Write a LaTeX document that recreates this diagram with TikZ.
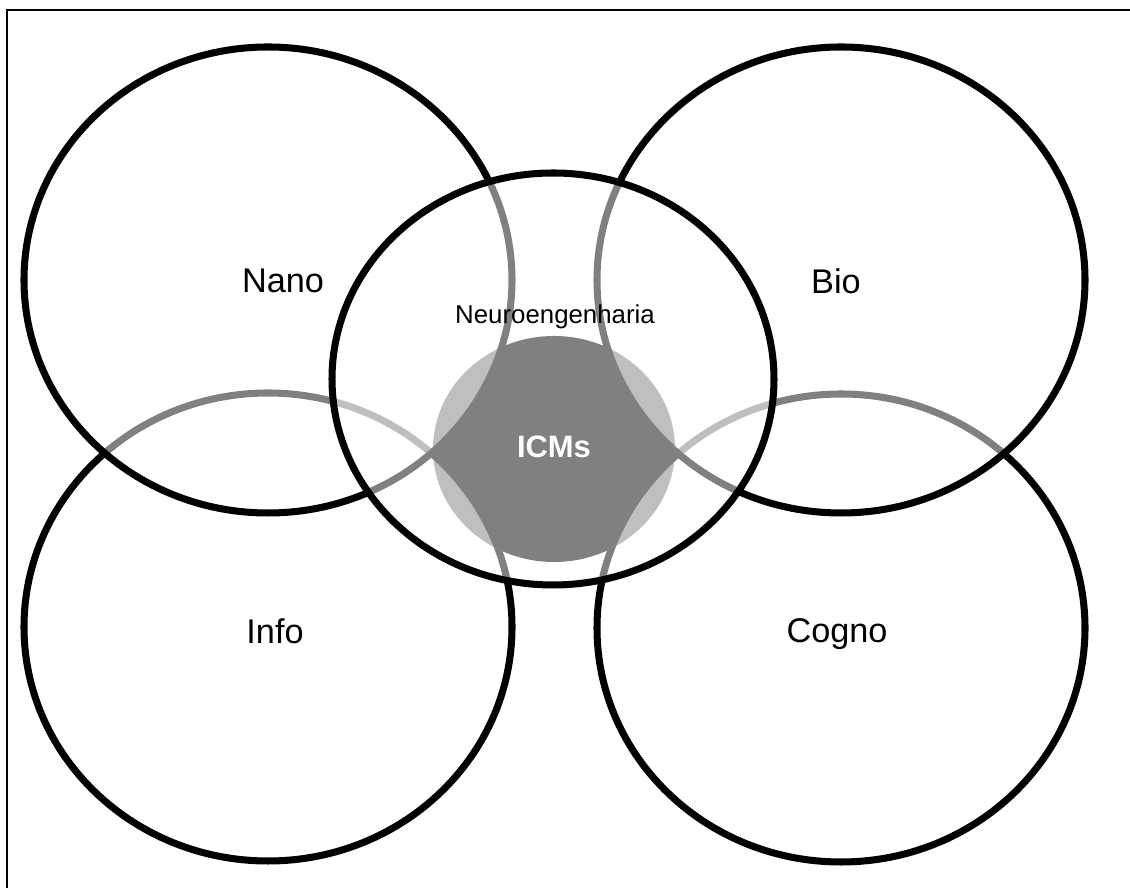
\documentclass[tikz,border=0pt]{standalone}
\usepackage{fontspec}
\setmainfont{Liberation Sans}
\usepackage{tikz}

\tikzset{
	conjunto/.style={line width=4pt, fill=white, fill opacity=0.5},
	rotulo/.style={font=\fontsize{19.5}{20}\selectfont}
}

\begin{document}
\begin{tikzpicture}[x=0.02cm,y=0.02cm]
			\useasboundingbox (0,0) rectangle (1130,888);
			\draw[line width=0.7pt] (7,0) -- (7,878) -- (1130,878);
			% nucleo (fica por baixo, os conjuntos clareiam)
			\fill[black]  (554,439) ellipse (121 and 113);
			\draw[conjunto]  (268,261) ellipse (244 and 234);
			\draw[conjunto]  (841,260) ellipse (244 and 234);
			\draw[conjunto]  (268,608) ellipse (244 and 233);
			\draw[conjunto]  (841,608) ellipse (244 and 233);
			\draw[conjunto]  (553,509) ellipse (221 and 206);
			\node[rotulo] (nano) at (283,607) {Nano};
			\node[rotulo] (bio) at (836,607) {Bio};
			\node[rotulo] (info) at (275,257) {Info};
			\node[rotulo] (cogno) at (837,254) {Cogno};
			\node[font=\fontsize{14.7}{15}\selectfont] (neuro) at (555,571) {Neuroengenharia};
			\node[font=\fontsize{17.6}{18}\selectfont\bfseries, text=white] (icms) at (554,441) {ICMs};
	\end{tikzpicture}
\end{document}
